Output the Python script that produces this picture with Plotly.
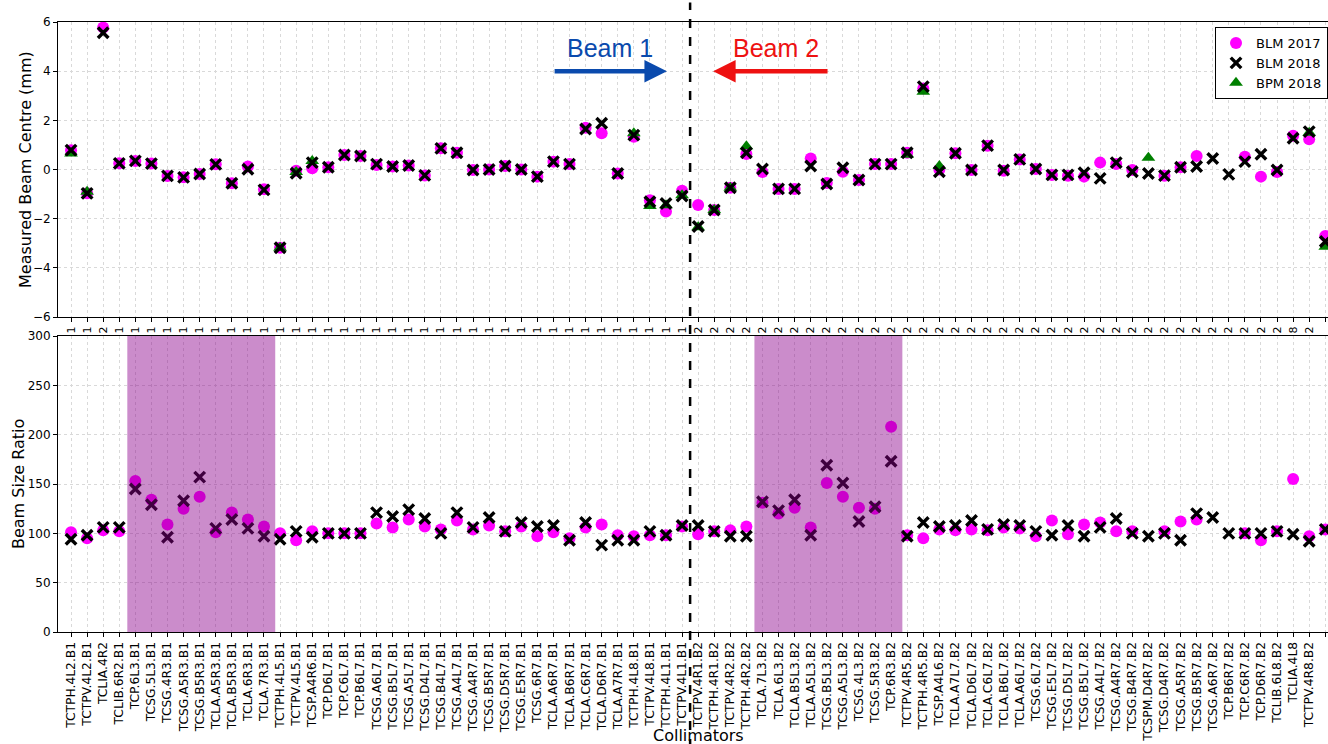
import plotly.graph_objects as go

collimators = [
    "TCTPH.4L2.B1", "TCTPV.4L2.B1", "TCLIA.4R2", "TCLIB.6R2.B1", "TCP.6L3.B1", "TCSG.5L3.B1",
    "TCSG.4R3.B1", "TCSG.A5R3.B1", "TCSG.B5R3.B1", "TCLA.A5R3.B1", "TCLA.B5R3.B1", "TCLA.6R3.B1",
    "TCLA.7R3.B1", "TCTPH.4L5.B1", "TCTPV.4L5.B1", "TCSP.A4R6.B1", "TCP.D6L7.B1", "TCP.C6L7.B1",
    "TCP.B6L7.B1", "TCSG.A6L7.B1", "TCSG.B5L7.B1", "TCSG.A5L7.B1", "TCSG.D4L7.B1", "TCSG.B4L7.B1",
    "TCSG.A4L7.B1", "TCSG.A4R7.B1", "TCSG.B5R7.B1", "TCSG.D5R7.B1", "TCSG.E5R7.B1", "TCSG.6R7.B1",
    "TCLA.A6R7.B1", "TCLA.B6R7.B1", "TCLA.C6R7.B1", "TCLA.D6R7.B1", "TCLA.A7R7.B1", "TCTPH.4L8.B1",
    "TCTPV.4L8.B1", "TCTPH.4L1.B1", "TCTPV.4L1.B1",
    "TCTPV.4R1.B2", "TCTPH.4R1.B2", "TCTPV.4R2.B2", "TCTPH.4R2.B2", "TCLA.7L3.B2", "TCLA.6L3.B2",
    "TCLA.B5L3.B2", "TCLA.A5L3.B2", "TCSG.B5L3.B2", "TCSG.A5L3.B2", "TCSG.4L3.B2", "TCSG.5R3.B2",
    "TCP.6R3.B2", "TCTPV.4R5.B2", "TCTPH.4R5.B2", "TCSP.A4L6.B2", "TCLA.A7L7.B2", "TCLA.D6L7.B2",
    "TCLA.C6L7.B2", "TCLA.B6L7.B2", "TCLA.A6L7.B2", "TCSG.6L7.B2", "TCSG.E5L7.B2", "TCSG.D5L7.B2",
    "TCSG.B5L7.B2", "TCSG.A4L7.B2", "TCSG.A4R7.B2", "TCSG.B4R7.B2", "TCSPM.D4R7.B2", "TCSG.D4R7.B2",
    "TCSG.A5R7.B2", "TCSG.B5R7.B2", "TCSG.A6R7.B2", "TCP.B6R7.B2", "TCP.C6R7.B2", "TCP.D6R7.B2",
    "TCLIB.6L8.B2", "TCLIA.4L8", "TCTPV.4R8.B2", "TCTPH.4R8.B2",
]
n_beam1 = 39

centre_blm2017 = [
    0.78, -0.97, 5.78, 0.25, 0.35, 0.24, -0.26, -0.32, -0.18, 0.21, -0.56, 0.12, -0.8, -3.18, -0.05,
    0.05, 0.09, 0.59, 0.55, 0.18, 0.12, 0.16, -0.24, 0.86, 0.68, -0.02, 0.0, 0.14, 0.0, -0.29,
    0.32, 0.22, 1.7, 1.47, -0.16, 1.33, -1.25, -1.71, -0.86,
    -1.44, -1.65, -0.74, 0.63, -0.1, -0.79, -0.79, 0.45, -0.55, -0.09, -0.43, 0.22, 0.22, 0.68,
    3.3, 0.0, 0.66, -0.02, 0.97, -0.05, 0.41, 0.02, -0.22, -0.25, -0.29, 0.28, 0.22, -0.02, None,
    -0.25, 0.09, 0.55, None, None, 0.52, -0.29, -0.1, 1.37, 1.23, -2.7,
]
centre_blm2018 = [
    0.79, -0.97, 5.56, 0.25, 0.35, 0.24, -0.26, -0.32, -0.18, 0.21, -0.56, 0.01, -0.83, -3.18, -0.15,
    0.28, 0.09, 0.59, 0.55, 0.22, 0.12, 0.16, -0.24, 0.86, 0.68, -0.02, 0.0, 0.14, 0.0, -0.29,
    0.32, 0.22, 1.65, 1.88, -0.16, 1.4, -1.31, -1.38, -1.08,
    -2.32, -1.65, -0.74, 0.68, 0.02, -0.79, -0.79, 0.14, -0.59, 0.07, -0.43, 0.22, 0.22, 0.68,
    3.37, -0.09, 0.66, -0.02, 0.97, -0.02, 0.41, 0.02, -0.22, -0.22, -0.13, -0.36, 0.28, -0.09, -0.16,
    -0.25, 0.09, 0.12, 0.45, -0.2, 0.32, 0.62, -0.02, 1.27, 1.54, -2.93,
]
centre_bpm2018 = [
    0.65, -0.9, None, None, None, None, None, None, None, None, None, None, None, -3.18, -0.1,
    0.35, None, None, None, None, None, None, None, None, None, None, None, None, None, None,
    None, None, None, None, None, 1.47, -1.48, -1.45, -1.05,
    -2.35, -1.65, -0.74, 0.95, None, None, None, None, None, None, None, None, None, 0.6,
    3.16, 0.14, None, None, None, None, None, None, None, None, None, None, None, None, 0.48,
    None, None, None, None, None, None, None, None, None, 1.5, -3.14,
]
ratio_blm2017 = [
    101, 95, 103, 102, 153, 134, 109, 125, 137, 101, 121, 114, 107, 100, 93, 102, 100, 100, 100, 110,
    106, 114, 107, 104, 113, 104, 108, 102, 107, 97, 101, 95, 106, 109, 98, 97, 98, 98, 107,
    99, 102, 103, 107, 131, 120, 126, 106, 151, 137, 126, 125, 208, 98, 95, 104, 103, 104, 103, 106,
    105, 97, 113, 99, 109, 111, 102, 102, None, 102, 112, 114, None, None, 100, 93, 102, 155, 97, 104,
]
ratio_blm2018 = [
    94, 98, 106, 106, 145, 129, 96, 133, 157, 105, 114, 105, 97, 94, 102, 96, 100, 100, 100, 121,
    117, 124, 115, 100, 121, 106, 116, 102, 111, 107, 108, 93, 111, 88, 93, 93, 102, 98, 108,
    108, 102, 97, 97, 132, 123, 134, 98, 169, 151, 112, 127, 173, 97, 111, 107, 108, 113, 104, 109,
    108, 102, 98, 108, 97, 106, 115, 100, 97, 100, 93, 120, 116, 100, 100, 100, 102, 99, 92, 104,
]
shaded_spans = [(3.5, 12.7), (42.5, 51.7)]
top_ticks = [-6, -4, -2, 0, 2, 4, 6]
bottom_ticks = [0, 50, 100, 150, 200, 250, 300]

idx = list(range(len(collimators)))
x_range = [-0.81, 78.17]
FONT = "DejaVu Sans"

fig = go.Figure()

def add(y, xa, ya, name, symbol, color, size, show, rank, line=None):
    m = dict(symbol=symbol, color=color, size=size)
    if line:
        m["line"] = line
    fig.add_trace(go.Scatter(x=idx, y=y, mode="markers", name=name, marker=m,
                             xaxis=xa, yaxis=ya, showlegend=show, legendrank=rank,
                             cliponaxis=False))

add(centre_blm2017, "x", "y", "BLM 2017", "circle", "#ff00ff", 12, True, 1)
add(centre_bpm2018, "x", "y", "BPM 2018", "triangle-up", "#008000", 12, True, 3)
add(centre_blm2018, "x", "y", "BLM 2018", "x-thin", "black", 10.5, True, 2,
    line=dict(color="black", width=3.4))
add(ratio_blm2017, "x2", "y2", "BLM 2017", "circle", "#ff00ff", 12, False, 1)
add(ratio_blm2018, "x2", "y2", "BLM 2018", "x-thin", "black", 10.5, False, 2,
    line=dict(color="black", width=3.4))

grid = dict(showgrid=True, gridcolor="#d9d9d9", griddash="dot", gridwidth=1)
axline = dict(showline=True, linecolor="black", linewidth=1, mirror=True, zeroline=False,
              ticks="outside", ticklen=4, tickcolor="black", automargin=False)

top_dom = [(632 - 317) / 610, 1.0]
bot_dom = [0.0, (632 - 336) / 610]

fig.update_layout(
    width=1328, height=744,
    margin=dict(l=58, r=0, t=22, b=112),
    paper_bgcolor="white", plot_bgcolor="white",
    font=dict(family=FONT, color="black"),
    xaxis=dict(domain=[0, 1], anchor="y", range=x_range, tickmode="array", tickvals=idx,
               ticktext=[c[-1] for c in collimators], tickangle=-90,
               tickfont=dict(size=11), **grid, **axline),
    yaxis=dict(domain=top_dom, anchor="x", range=[-6, 6], tickvals=top_ticks,
               tickfont=dict(size=12), **grid, **axline),
    xaxis2=dict(domain=[0, 1], anchor="y2", range=x_range, tickmode="array", tickvals=idx,
                ticktext=collimators, tickangle=-90, tickfont=dict(size=12.3), **grid, **axline),
    yaxis2=dict(domain=bot_dom, anchor="x2", range=[0, 300], tickvals=bottom_ticks,
                tickfont=dict(size=12), **grid, **axline),
    legend=dict(x=1.0, xanchor="right", y=(632 - 27) / 610, yanchor="top",
                bordercolor="black", borderwidth=1, bgcolor="white",
                font=dict(size=13, family=FONT), itemwidth=30, tracegroupgap=0),
    showlegend=True,
)

shapes = []
for a, b in shaded_spans:
    shapes.append(dict(type="rect", xref="x2", yref="y2", x0=a, x1=b, y0=0, y1=300,
                       fillcolor="rgba(140,0,140,0.45)", line=dict(width=0), layer="above"))
div_paper = (n_beam1 - 0.5 - x_range[0]) / (x_range[1] - x_range[0])
shapes.append(dict(type="line", xref="paper", yref="paper", x0=div_paper, x1=div_paper,
                   y0=-0.19, y1=1.032, line=dict(color="black", width=2.5, dash="dash"),
                   layer="above"))
fig.update_layout(shapes=shapes)

ann = []
ann.append(dict(x=37.06, y=4, ax=29.98, ay=4, xref="x", yref="y", axref="x", ayref="y",
                showarrow=True, arrowhead=2, arrowsize=1, arrowwidth=4.5,
                arrowcolor="#0a4aad", text=""))
ann.append(dict(x=39.93, y=4, ax=47.14, ay=4, xref="x", yref="y", axref="x", ayref="y",
                showarrow=True, arrowhead=2, arrowsize=1, arrowwidth=4.5,
                arrowcolor="#ee1111", text=""))
ann.append(dict(x=33.5, y=4.95, xref="x", yref="y", text="Beam 1", showarrow=False,
                font=dict(size=25, color="#0a4aad", family="Liberation Sans")))
ann.append(dict(x=43.85, y=4.95, xref="x", yref="y", text="Beam 2", showarrow=False,
                font=dict(size=25, color="#ee1111", family="Liberation Sans")))
ann.append(dict(x=-33 / 1270, y=(632 - 170) / 610, xref="paper", yref="paper",
                xanchor="center", yanchor="middle",
                text="Measured Beam Centre (mm)", textangle=-90, showarrow=False,
                font=dict(size=16, family=FONT)))
ann.append(dict(x=-40 / 1270, y=(632 - 484) / 610, xref="paper", yref="paper",
                xanchor="center", yanchor="middle",
                text="Beam Size Ratio", textangle=-90, showarrow=False,
                font=dict(size=16, family=FONT)))
ann.append(dict(x=(698 - 58) / 1270, y=(632 - 735) / 610, xref="paper", yref="paper",
                xanchor="center", yanchor="middle",
                text="Collimators", showarrow=False, font=dict(size=16, family=FONT)))
fig.update_layout(annotations=ann)

fig.write_html("out.html", config={"displayModeBar": False},
               post_script="document.body.style.margin='0';document.body.style.overflow='hidden';")
